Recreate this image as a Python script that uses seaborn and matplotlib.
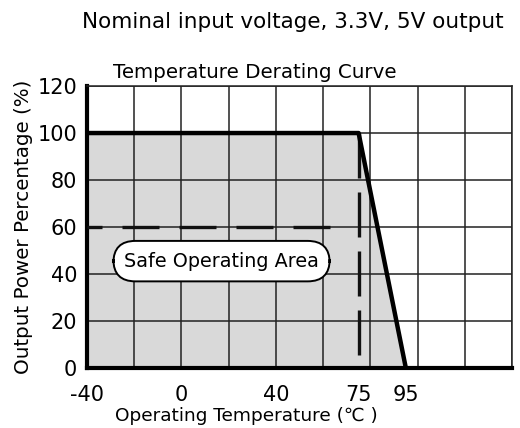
import matplotlib
matplotlib.use("Agg")
import matplotlib.pyplot as plt
import seaborn as sns
import pandas as pd

# derating curve: full power up to 75 C, linear down to 0 at 95 C
temp = [-40, 75, 95]
power = [100, 100, 0]
derate_temp = 75
ref_level = 60
ref_end = 64
x_ticks = [-40, 0, 40, 75, 95]
y_ticks = [0, 20, 40, 60, 80, 100, 120]

sns.set_style("white")
plt.rcParams['font.family'] = ['DejaVu Sans']
plt.rcParams['text.color'] = 'black'
plt.rcParams['axes.labelcolor'] = 'black'
plt.rcParams['xtick.color'] = 'black'
plt.rcParams['ytick.color'] = 'black'

fig = plt.figure(figsize=(5.2, 4.28), dpi=100)
ax = fig.add_axes([0.167, 0.140, 0.818, 0.659])

# grid
for gx in range(-40, 141, 20):
    ax.axvline(gx, color="#222222", lw=1.1, zorder=2)
for gy in y_ticks:
    ax.axhline(gy, color="#222222", lw=1.1, zorder=2)

# grey safe area under the curve
ax.fill_between(temp, power, 0, color="#d9d9d9", zorder=1, lw=0)

df = pd.DataFrame({"temp": temp, "power": power})
sns.lineplot(data=df, x="temp", y="power", color="black", lw=3.2, ax=ax,
             zorder=4, sort=False)

# dashed reference lines
ax.plot([temp[0], ref_end], [ref_level, ref_level], color="#111111",
        lw=2.4, ls=(6.6, (11.1, 6.0)), dash_capstyle="butt", zorder=3)
ax.plot([derate_temp, derate_temp], [power[0], 0], color="#111111",
        lw=2.4, ls=(0, (13.5, 4.2)), dash_capstyle="butt", zorder=3)

ax.text(17, 45.5, "Safe Operating Area", fontsize=13.8, ha="center", va="center",
        zorder=5,
        bbox=dict(boxstyle="round,pad=0.56,rounding_size=1.15", fc="white",
                  ec="black", lw=1.4))

ax.set_xlim(-40, 140)
ax.set_ylim(0, 120)
ax.set_xticks(x_ticks)
ax.set_xticklabels([str(t) for t in x_ticks], fontsize=15)
ax.set_yticks(y_ticks)
ax.set_yticklabels([str(t) for t in y_ticks], fontsize=15)
ax.tick_params(axis="y", length=0, pad=7)
ax.tick_params(axis="x", length=0, pad=12)

for side in ["left", "bottom"]:
    ax.spines[side].set_linewidth(3)
    ax.spines[side].set_color("black")
for side in ["top", "right"]:
    ax.spines[side].set_linewidth(1.1)
    ax.spines[side].set_color("#222222")

ax.set_xlabel("Operating Temperature (℃ )", fontsize=13.3)
ax.xaxis.set_label_coords(0.376, -0.138)
ax.set_ylabel("Output Power Percentage (%)", fontsize=14.3, labelpad=3)

fig.text(0.563, 0.948, "Nominal input voltage, 3.3V, 5V output", fontsize=15.5,
         ha="center", va="center")
fig.text(0.49, 0.830, "Temperature Derating Curve", fontsize=14.3,
         ha="center", va="center")

fig.savefig("out.png", dpi=100)
